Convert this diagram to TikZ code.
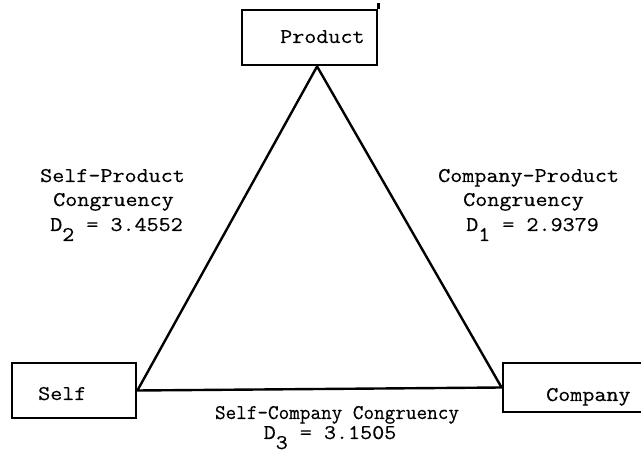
\documentclass[tikz,border=0pt]{standalone}
\usepackage{fontspec}
\usepackage{graphicx}
\setmonofont{Latin Modern Mono}[FakeStretch=1.12, FakeBold=0.4]
\usetikzlibrary{calc}
\tikzset{
  box/.style={draw, line width=2.8pt, inner sep=0pt},
  edge/.style={draw, line width=2.4pt, line join=miter},
  lbl/.style={anchor=base west, inner sep=0pt, font=\ttfamily\fontsize{20.9}{25}\selectfont},
  clbl/.style={anchor=base, inner sep=0pt, font=\ttfamily\fontsize{20.9}{25}\selectfont},
}
\newcommand{\subd}[1]{\lower10pt\hbox{#1}}
\begin{document}
\begin{tikzpicture}[x=1pt, y=-1pt]
  \clip (0,0) rectangle (641,454);
  \fill[white] (0,0) rectangle (641,454);

  % boxes
  \node[box, minimum width=135pt, minimum height=55pt] (prodbox) at (309.5,37.5) {};
  \node[box, minimum width=124pt, minimum height=55pt] (selfbox) at (74,390.5) {};
  \node[box, minimum width=160pt, minimum height=49pt] (compbox) at (583,387.5) {};
  \draw[line width=2.8pt] (prodbox.north east) -- ([yshift=6pt]prodbox.north east);

  % box captions
  \node[lbl] (prodtxt) at (280,43) {Product};
  \node[lbl] (selftxt) at (38,400) {Self};
  \node[lbl] (comptxt) at (546,401) {Company};

  % triangle of congruencies
  \coordinate (apex) at ($(prodbox.south west)!0.555!(prodbox.south east)$);
  \draw[edge] (apex) -- (selfbox.east) -- (compbox.west) -- cycle;

  % self-product
  \node[lbl] (sp1) at (40,182) {Self-Product};
  \node[lbl] (sp2) at (53,206) {Congruency};
  \node[lbl] (sp3) at (50,231) {D\subd{2} = 3.4552};

  % company-product
  \node[lbl] (cp1) at (438,182) {Company-Product};
  \node[lbl] (cp2) at (463,206) {Congruency};
  \node[lbl] (cp3) at (466,231) {D\subd{1} = 2.9379};

  % self-company
  \node[clbl] (sc1) at (337,419) {\scalebox{0.88}[1]{Self-Company Congruency}};
  \node[clbl] (sc2) at (330,439) {D\subd{3} = 3.1505};
\end{tikzpicture}
\end{document}
